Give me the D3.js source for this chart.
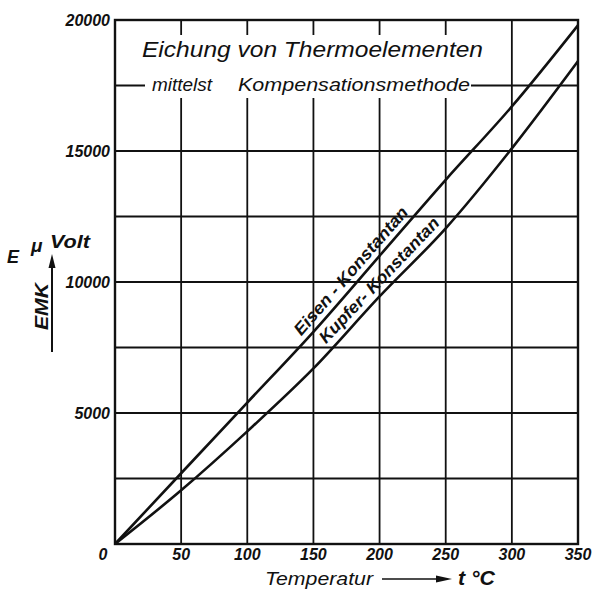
<!DOCTYPE html>
<html><head><meta charset="utf-8">
<script src="https://cdn.jsdelivr.net/npm/d3@7"></script>
<style>body{margin:0;background:#fff}svg{display:block}text{font-family:"Liberation Sans",Arial,sans-serif;font-style:italic;fill:#111}</style>
</head><body><svg id="c" width="598" height="589"></svg>
<script>
const temps = [0, 50, 100, 150, 200, 250, 300, 350];
const eisen = [0, 2700, 5400, 8100, 11000, 13900, 16700, 19800];
const kupfer = [0, 2050, 4300, 6700, 9450, 12050, 15100, 18430];
const xTicks = [0, 50, 100, 150, 200, 250, 300, 350];
const yTicks = [0, 5000, 10000, 15000, 20000];
const yGrid = [2500, 5000, 7500, 10000, 12500, 15000, 17500];

const svg = d3.select("#c");
const x = d3.scaleLinear().domain([0, 350]).range([115, 578]);
const y = d3.scaleLinear().domain([0, 20000]).range([544, 20]);
const ink = "#111";

// grid
const g = svg.append("g").attr("stroke", ink).attr("stroke-width", 1.8);
g.selectAll("line.v").data(xTicks.slice(1, -1)).join("line")
  .attr("x1", d => x(d)).attr("x2", d => x(d)).attr("y1", y(0)).attr("y2", y(20000));
g.selectAll("line.h").data(yGrid).join("line")
  .attr("x1", x(0)).attr("x2", x(350)).attr("y1", d => y(d)).attr("y2", d => y(d));

// white box behind title
svg.append("rect").attr("x", 145).attr("y", 35).attr("width", 326).attr("height", 63).attr("fill", "#fff");

// frame
svg.append("rect").attr("x", x(0)).attr("y", y(20000)).attr("width", x(350) - x(0)).attr("height", y(0) - y(20000))
  .attr("fill", "none").attr("stroke", ink).attr("stroke-width", 2.4);

// curves
const line = d3.line().x(d => x(d[0])).y(d => y(d[1])).curve(d3.curveMonotoneX);
[eisen, kupfer].forEach(s => {
  svg.append("path").attr("d", line(temps.map((t, i) => [t, s[i]])))
    .attr("fill", "none").attr("stroke", ink).attr("stroke-width", 2.6);
});

// curve labels
function curveLabel(series, tc, txt, len) {
  const interp = d3.scaleLinear().domain(temps).range(series);
  const p0 = [x(tc - 20), y(interp(tc - 20))], p1 = [x(tc + 20), y(interp(tc + 20))];
  const ang = Math.atan2(p1[1] - p0[1], p1[0] - p0[0]) * 180 / Math.PI;
  svg.append("text").attr("transform", `translate(${x(tc)},${y(interp(tc))}) rotate(${ang})`)
    .attr("text-anchor", "middle").attr("dy", -6).attr("font-size", 17).attr("font-weight", "bold")
    .attr("textLength", len).attr("lengthAdjust", "spacingAndGlyphs").text(txt);
}
curveLabel(eisen, 185, "Eisen - Konstantan", 164);
curveLabel(kupfer, 206, "Kupfer- Konstantan", 166);

// title
svg.append("text").attr("x", 142).attr("y", 57).attr("font-size", 22)
  .attr("textLength", 341).attr("lengthAdjust", "spacingAndGlyphs").text("Eichung von Thermoelementen");
svg.append("text").attr("x", 152).attr("y", 91).attr("font-size", 18)
  .attr("textLength", 60).attr("lengthAdjust", "spacingAndGlyphs").text("mittelst");
svg.append("text").attr("x", 238).attr("y", 91).attr("font-size", 18)
  .attr("textLength", 232).attr("lengthAdjust", "spacingAndGlyphs").text("Kompensationsmethode");

// tick labels
svg.selectAll("text.xt").data(xTicks).join("text")
  .attr("x", d => d === 0 ? x(d) - 12 : x(d)).attr("y", 560).attr("text-anchor", "middle")
  .attr("font-size", 16).attr("font-weight", "bold").text(d => d);
svg.selectAll("text.yt").data(yTicks.slice(1)).join("text")
  .attr("x", 110).attr("y", d => y(d) + 6).attr("text-anchor", "end")
  .attr("font-size", 16).attr("font-weight", "bold").text(d => d);

// x title
svg.append("text").attr("x", 265).attr("y", 585).attr("font-size", 18)
  .attr("textLength", 108).attr("lengthAdjust", "spacingAndGlyphs").text("Temperatur");
svg.append("line").attr("x1", 382).attr("x2", 440).attr("y1", 579).attr("y2", 579).attr("stroke", ink).attr("stroke-width", 1.5);
svg.append("path").attr("d", "M436,575.5 L452,579 L436,582.5 Z").attr("fill", ink);
svg.append("text").attr("x", 458).attr("y", 585).attr("font-size", 20).attr("font-weight", "bold")
  .attr("textLength", 37).attr("lengthAdjust", "spacingAndGlyphs").text("t °C");

// y title
svg.append("text").attr("x", 7).attr("y", 263).attr("font-size", 18).attr("font-weight", "bold").text("E");
svg.append("text").attr("x", 31).attr("y", 252).attr("font-size", 19).attr("font-weight", "bold").text("μ");
svg.append("text").attr("x", 50).attr("y", 248).attr("font-size", 18).attr("font-weight", "bold")
  .attr("textLength", 40).attr("lengthAdjust", "spacingAndGlyphs").text("Volt");
svg.append("line").attr("x1", 52).attr("x2", 52).attr("y1", 352).attr("y2", 266).attr("stroke", ink).attr("stroke-width", 2);
svg.append("path").attr("d", "M48.5,268 L52,254 L55.5,268 Z").attr("fill", ink);
svg.append("text").attr("transform", "translate(48,330) rotate(-90)")
  .attr("font-size", 19).attr("font-weight", "bold")
  .attr("textLength", 47).attr("lengthAdjust", "spacingAndGlyphs").text("EMK");
</script></body></html>
